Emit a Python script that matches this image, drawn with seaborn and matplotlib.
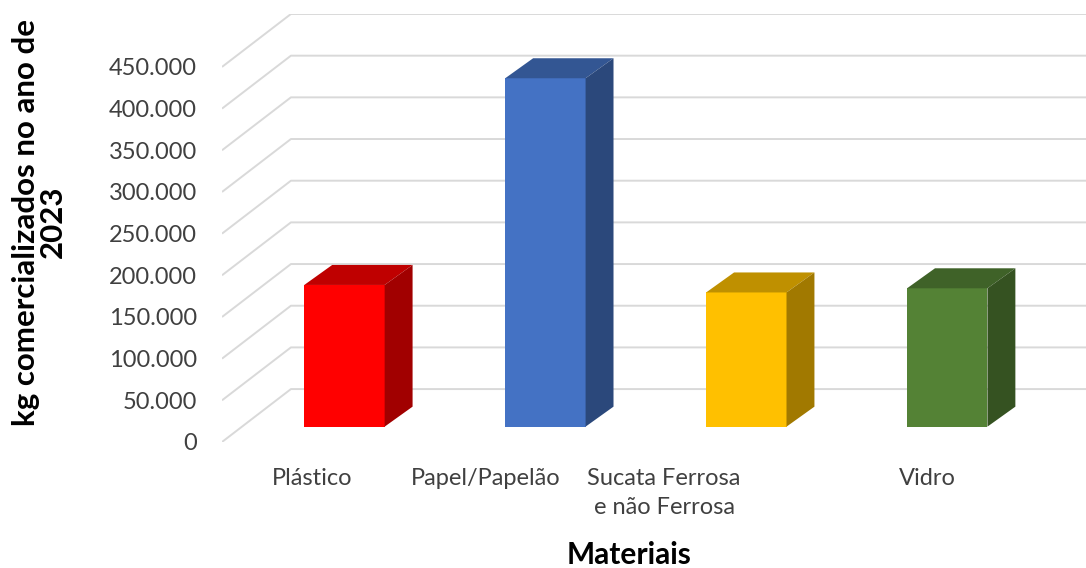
import numpy as np
import pandas as pd
import matplotlib
matplotlib.use("Agg")
import matplotlib.pyplot as plt
from matplotlib.patches import Polygon
import seaborn as sns

# data (kg sold in 2023)
materiais = ["Plástico", "Papel/Papelão", "Sucata Ferrosa\ne não Ferrosa", "Vidro"]
kg_2023 = [170000, 418000, 161000, 166000]
cores = ["#FF0000", "#4472C4", "#FFC000", "#548235"]
yticks = [0, 50000, 100000, 150000, 200000, 250000, 300000, 350000, 400000, 450000]

# fake 3D layout (data units)
depth_x, depth_y = 0.343, 63500      # wall depth offset
bar_pos = 0.29                        # where bars sit inside the depth
bar_dx, bar_dy = 0.139, 24000         # bar depth
label_nudge = [-0.06, -0.2, -0.31, 0.0]

df = pd.DataFrame({"Material": materiais, "kg": kg_2023})

sns.set_theme(style="white")
plt.rcParams["font.family"] = ["Lato", "DejaVu Sans"]

fig = plt.figure(figsize=(10.86, 5.68), dpi=100)
ax = fig.add_axes([222 / 1086, 126 / 568, 864 / 1086, 428 / 568])

x_left, x_right = -0.51, 3.79
y_top = yticks[-1] + depth_y

# gridlines: diagonal on the left wall + horizontal on the back wall
for v in yticks:
    ax.plot([x_left, x_left + depth_x, x_right], [v, v + depth_y, v + depth_y],
            color="#d9d9d9", lw=1.4, zorder=0, solid_capstyle="butt")

sns.barplot(data=df, x="Material", y="kg", hue="Material", palette=cores,
            width=0.4, saturation=1, legend=False, ax=ax, zorder=2, linewidth=0)

base = bar_pos * depth_y
shift = bar_pos * depth_x
for p, c in zip(ax.patches, cores):
    p.set_x(p.get_x() + shift)
    p.set_y(base)
    x0, w, h = p.get_x(), p.get_width(), p.get_height()
    rgb = np.array(matplotlib.colors.to_rgb(c))
    top = [(x0, base + h), (x0 + w, base + h),
           (x0 + w + bar_dx, base + h + bar_dy), (x0 + bar_dx, base + h + bar_dy)]
    side = [(x0 + w, base), (x0 + w + bar_dx, base + bar_dy),
            (x0 + w + bar_dx, base + h + bar_dy), (x0 + w, base + h)]
    ax.add_patch(Polygon(top, closed=True, color=rgb * 0.75, lw=0, zorder=2))
    ax.add_patch(Polygon(side, closed=True, color=rgb * 0.63, lw=0, zorder=2))

ax.set_xlim(x_left, x_right)
ax.set_ylim(0, y_top)
ax.set_yticks(yticks)
ax.set_yticklabels([f"{v:,}".replace(",", ".") for v in yticks])
ax.set_xticks(np.arange(len(materiais)) + np.array(label_nudge))
ax.set_xticklabels(materiais, multialignment="center", linespacing=1.45)
ax.tick_params(axis="both", length=0, labelsize=17, colors="#404040")
ax.tick_params(axis="y", pad=18)
ax.tick_params(axis="x", pad=19)
ax.set_xlabel("")
ax.set_ylabel("")
sns.despine(ax=ax, left=True, bottom=True)

fig.text(629 / 1086, 1 - 555 / 568, "Materiais", ha="center", va="center",
         fontsize=21.5, fontweight="bold", color="black")
fig.text(39 / 1086, 1 - 222 / 568, "kg comercializados no ano de\n2023",
         ha="center", va="center", rotation=90, fontsize=22.5,
         fontweight="bold", color="black", multialignment="center", linespacing=0.95)

fig.savefig("out.png", dpi=100)
